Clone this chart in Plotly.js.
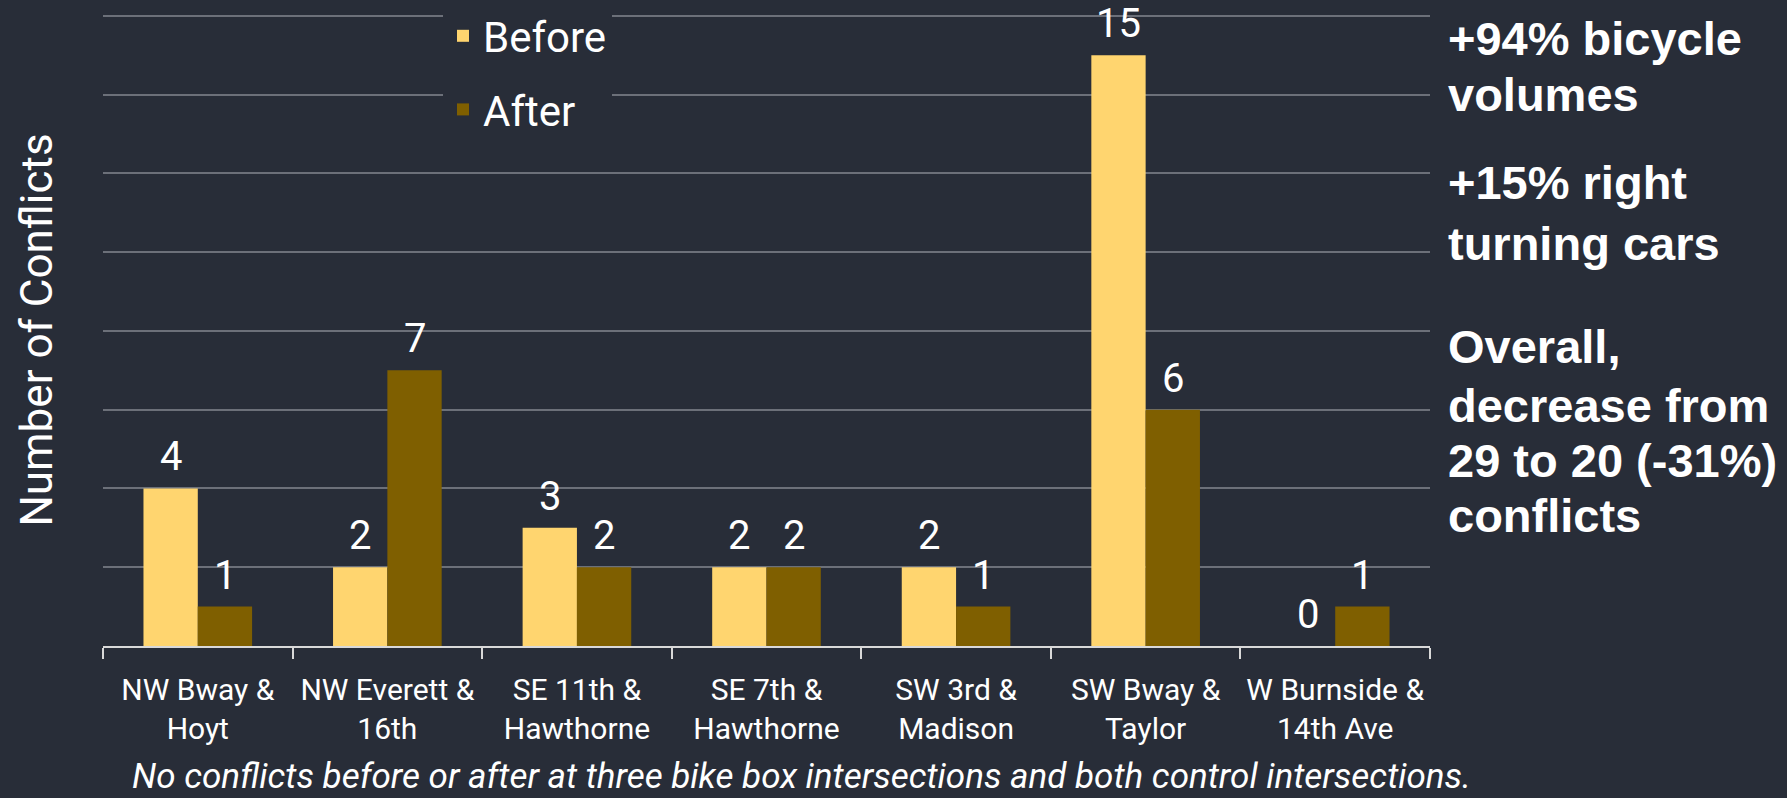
<!DOCTYPE html>
<html>
<head>
<meta charset="utf-8">
<script src="https://cdn.plot.ly/plotly-3.0.1.min.js"></script>
<style>
  html, body { margin: 0; padding: 0; background: #282d38; }
  #chart { width: 1787px; height: 798px; }
</style>
</head>
<body>
<div id="chart"></div>
<script>
// ---- data ----
const categories = [
  "NW Bway &<br>Hoyt",
  "NW Everett &<br>16th",
  "SE 11th &<br>Hawthorne",
  "SE 7th &<br>Hawthorne",
  "SW 3rd &<br>Madison",
  "SW Bway &<br>Taylor",
  "W Burnside &<br>14th Ave"
];
const beforeValues = [4, 2, 3, 2, 2, 15, 0];
const afterValues  = [1, 7, 2, 2, 1, 6, 1];
const seriesNames = ["Before", "After"];
const yTitle = "Number of Conflicts";
const sideNotes = [
  ["+94% bicycle", "volumes"],
  ["+15% right", "turning cars"],
  ["Overall,", "decrease from", "29 to 20 (-31%)", "conflicts"]
];
const footnote = "No conflicts before or after at three bike box intersections and both control intersections.";

// ---- style / layout constants ----
const W = 1787, H = 798;
const M = { l: 103, r: 357, t: 14, b: 152 };
const plotW = W - M.l - M.r, plotH = H - M.t - M.b;
const BG = "#282d38";
const BEFORE_COLOR = "#ffd56f";
const AFTER_COLOR = "#7f5f00";
const BODY_FONT = "Roboto, 'Open Sans', sans-serif";
const NOTE_FONT = "'Liberation Sans', Arial, sans-serif";
const BARGAP = 0.427;

const px2paperX = px => (px - M.l) / plotW;
const px2paperY = py => (H - M.b - py) / plotH;

const traces = [
  { type: "bar", name: seriesNames[0], x: categories, y: beforeValues,
    marker: { color: BEFORE_COLOR }, legendgroup: "b", hoverinfo: "x+y" },
  { type: "bar", name: seriesNames[1], x: categories, y: afterValues,
    marker: { color: AFTER_COLOR }, legendgroup: "a", hoverinfo: "x+y" }
];

// data labels, placed at each bar's value
const annotations = [];
const catW = plotW / categories.length;
const barShift = catW * (1 - BARGAP) / 4;
[beforeValues, afterValues].forEach((vals, s) => {
  vals.forEach((v, i) => {
    annotations.push({
      xref: "x", yref: "y", x: categories[i], y: v,
      text: String(v), showarrow: false,
      xanchor: "center", yanchor: "bottom",
      xshift: s === 0 ? -barShift : barShift, yshift: 6,
      font: { family: BODY_FONT, size: 40, color: "#ffffff" }
    });
  });
});

// side notes, one annotation per line (baselines in px)
const noteBaselines = [[56, 112], [200, 261], [364, 423, 478, 533]];
const NOTE_SIZE = 47;
sideNotes.forEach((block, b) => {
  block.forEach((line, j) => {
    annotations.push({
      xref: "paper", yref: "paper",
      x: px2paperX(1446), y: px2paperY(noteBaselines[b][j] + NOTE_SIZE * 0.212 + 1),
      xanchor: "left", yanchor: "bottom", align: "left",
      text: "<b>" + line + "</b>", showarrow: false,
      font: { family: NOTE_FONT, size: NOTE_SIZE, color: "#ffffff" }
    });
  });
});

// footnote
annotations.push({
  xref: "paper", yref: "paper",
  x: px2paperX(801), y: px2paperY(798),
  xanchor: "center", yanchor: "bottom", borderpad: 0,
  text: "<i>" + footnote + "</i>", showarrow: false,
  font: { family: BODY_FONT, size: 35, color: "#ffffff" }
});

const layout = {
  width: W, height: H,
  paper_bgcolor: BG, plot_bgcolor: BG,
  margin: { l: M.l, r: M.r, t: M.t, b: M.b, pad: 0, autoexpand: false },
  barmode: "group", bargap: BARGAP, bargroupgap: 0,
  showlegend: true,
  legend: {
    x: px2paperX(443), y: px2paperY(2), xanchor: "left", yanchor: "top",
    bgcolor: BG, borderwidth: 0,
    font: { family: BODY_FONT, size: 42, color: "#ffffff" },
    traceorder: "grouped", tracegroupgap: 16
  },
  xaxis: {
    type: "category", automargin: false,
    showline: true, linecolor: "#d9d9d9", linewidth: 2,
    ticks: "outside", tickson: "boundaries", ticklen: 11, tickwidth: 2, tickcolor: "#d9d9d9",
    showgrid: false, zeroline: false,
    tickfont: { family: BODY_FONT, size: 30, color: "#ffffff" },
    ticklabelstandoff: 16
  },
  yaxis: {
    range: [0, 16.05], dtick: 2, tick0: 0, automargin: false,
    showticklabels: false, ticks: "",
    showgrid: true, gridcolor: "#6c7079", gridwidth: 2,
    zeroline: false, showline: false,
    title: { text: yTitle, font: { family: BODY_FONT, size: 44, color: "#ffffff" }, standoff: 35 }
  },
  annotations: annotations
};

Plotly.newPlot("chart", traces, layout, { displayModeBar: false, staticPlot: true });
</script>
</body>
</html>
